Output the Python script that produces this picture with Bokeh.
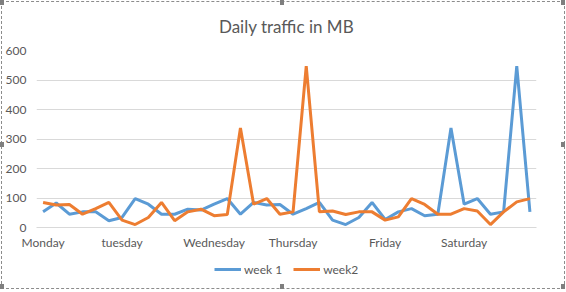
from bokeh.plotting import figure
from bokeh.layouts import column
from bokeh.models import (Range1d, FixedTicker, Legend, LegendItem, InlineStyleSheet)
from bokeh.embed import file_html
from bokeh.resources import INLINE

# ---- data ----
week1 = [53, 83, 45, 53, 53, 23, 34, 98, 79, 45, 45, 62, 59, 79, 98, 45,
         85, 76, 78, 45, 64, 85, 25, 10, 34, 85, 27, 53, 64, 40, 45, 337,
         79, 98, 45, 53, 547, 53]
week2 = [85, 76, 78, 45, 64, 85, 25, 10, 34, 85, 23, 53, 62, 40, 44, 337,
         79, 98, 45, 53, 547, 53, 56, 44, 53, 53, 25, 36, 98, 78, 45, 45,
         64, 56, 10, 53, 87, 98]
day_labels = ["Monday", "tuesday", "Wednesday", "Thursday", "Friday", "Saturday"]
day_positions = [0, 6, 13, 19, 26, 32]
y_ticks = [0, 100, 200, 300, 400, 500, 600]
series_names = ["week 1", "week2"]
series_colors = ["#5B9BD5", "#ED7D31"]

x = list(range(len(week1)))

FONT = "Lato"
GRAY = "#595959"

p = figure(width=566, height=255, output_backend="svg", toolbar_location=None,
           x_range=Range1d(-0.5, len(week1) - 0.5), y_range=Range1d(0, 600),
           min_border_left=36, min_border_right=30, min_border_top=0,
           min_border_bottom=28)
p.outline_line_color = None
p.background_fill_color = "white"
p.border_fill_color = "white"

p.title.text = "Daily traffic in MB"
p.title.align = "center"
p.title.text_font = FONT
p.title.text_font_size = "17px"
p.title.text_font_style = "normal"
p.title.text_color = GRAY
p.title.padding = 1
p.title.standoff = 25
p.title.offset = -4

p.line(x, week1, line_color=series_colors[0], line_width=3)
p.line(x, week2, line_color=series_colors[1], line_width=3)

p.xgrid.visible = False
p.ygrid.ticker = FixedTicker(ticks=y_ticks)
p.ygrid.grid_line_color = "#D9D9D9"
p.ygrid.grid_line_width = 1

p.yaxis.ticker = FixedTicker(ticks=y_ticks)
p.yaxis.axis_line_color = None
p.yaxis.major_tick_line_color = None
p.yaxis.minor_tick_line_color = None
p.yaxis.major_tick_out = 0
p.yaxis.major_label_standoff = 10
p.yaxis.major_label_text_font = FONT
p.yaxis.major_label_text_font_size = "12px"
p.yaxis.major_label_text_color = GRAY

p.xaxis.ticker = FixedTicker(ticks=day_positions)
p.xaxis.major_label_overrides = {pos: lab for pos, lab in zip(day_positions, day_labels)}
p.xaxis.axis_line_color = "#D9D9D9"
p.xaxis.major_tick_line_color = None
p.xaxis.minor_tick_line_color = None
p.xaxis.major_tick_out = 0
p.xaxis.major_label_standoff = 7
p.xaxis.major_label_text_font = FONT
p.xaxis.major_label_text_font_size = "12px"
p.xaxis.major_label_text_color = GRAY

# legend strip (separate small figure; its series lie outside its view, only keys show)
q = figure(width=566, height=37, output_backend="svg", toolbar_location=None,
           min_border=0, x_axis_location=None, y_axis_location=None,
           x_range=Range1d(0, 1), y_range=Range1d(5000, 6000))
q.outline_line_color = None
q.grid.visible = False
k1 = q.line(x, week1, line_color=series_colors[0], line_width=3)
k2 = q.line(x, week2, line_color=series_colors[1], line_width=3)
legend = Legend(items=[LegendItem(label=series_names[0], renderers=[k1]),
                       LegendItem(label=series_names[1], renderers=[k2])],
                orientation="horizontal", location=(178, 13),
                label_text_font=FONT, label_text_font_size="12px",
                label_text_color=GRAY, glyph_width=27, label_standoff=3,
                spacing=11, padding=0, margin=0,
                border_line_color=None, background_fill_alpha=0)
q.add_layout(legend, "center")

layout = column(p, q, spacing=0)
# selection frame with handles (purely decorative)
layout.stylesheets = [InlineStyleSheet(css="""
:host { position: relative; }
:host::before {
  content: ''; position: absolute; left: 1px; top: 1px; width: 562px; height: 286px;
  border: 1px dashed #8C8C8C; pointer-events: none; z-index: 1000;
}
:host::after {
  content: ''; position: absolute; left: 0px; top: 0px; width: 4px; height: 5px;
  background: #7F7F7F; pointer-events: none; z-index: 1001;
  box-shadow: 280px 0 0 #7F7F7F, 561px 0 0 #7F7F7F,
              0 142px 0 #7F7F7F, 561px 142px 0 #7F7F7F,
              0 284px 0 #7F7F7F, 280px 284px 0 #7F7F7F, 561px 284px 0 #7F7F7F;
}
""")]

open("out.html", "w").write(file_html(layout, INLINE))
